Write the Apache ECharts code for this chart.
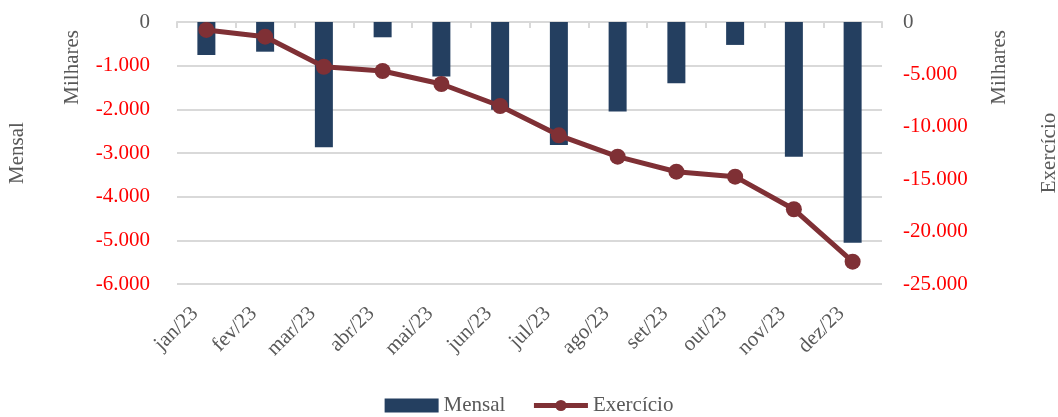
<!DOCTYPE html>
<html lang="pt">
<head>
<meta charset="UTF-8">
<title>Mensal x Exercício</title>
<style>
  *{margin:0;padding:0;}
  #chart{width:1058px;height:417px;background:#fff;}
</style>
</head>
<body>
<div id="chart"></div>
<script src="https://cdn.jsdelivr.net/npm/echarts@6/dist/echarts.min.js"></script>
<script>
var months = ['jan/23','fev/23','mar/23','abr/23','mai/23','jun/23','jul/23','ago/23','set/23','out/23','nov/23','dez/23'];
// valores em milhares
var mensal = [-756, -680, -2870, -350, -1250, -2010, -2815, -2050, -1405, -525, -3085, -5055];
var exercicio = [-760, -1400, -4270, -4675, -5915, -8015, -10815, -12850, -14285, -14760, -17870, -22870];

var fontFam = '"Liberation Serif", "DejaVu Serif", serif';
var gray = '#595959';
var lineColor = '#7f3035';

function fmt(v){
	var s = Math.abs(v).toString().replace(/\B(?=(\d{3})+(?!\d))/g, '.');
	if(v < 0){
		return '{neg|-' + s + '}';
	}
	return '{zero|' + s + '}';
}
var labelRich = {
	neg:{color:'#ff0000',fontSize:21,fontFamily:fontFam},
	zero:{color:gray,fontSize:21,fontFamily:fontFam}
};

var myChart = echarts.init(document.getElementById('chart'));
var option = {
	animation:false,
	textStyle:{fontFamily:fontFam},
	grid:{left:177,right:176,top:22,bottom:133,outerBoundsMode:'none'},
	legend:{
		top:390,
		left:'center',
		itemWidth:54,
		itemHeight:14,
		itemGap:26,
		textStyle:{color:gray,fontSize:21,fontFamily:fontFam},
		data:[
			{name:'Mensal',icon:'rect'},
			{name:'Exercício',lineStyle:{width:5,color:lineColor}}
		]
	},
	graphic:[
		{type:'text',left:62,top:30,rotation:Math.PI/2,
			style:{text:'Milhares',fill:gray,font:'21px ' + fontFam}},
		{type:'text',left:989,top:30,rotation:Math.PI/2,
			style:{text:'Milhares',fill:gray,font:'21px ' + fontFam}}
	],
	xAxis:[{
		type:'category',
		data:months,
		position:'bottom',
		axisLine:{show:false},
		axisTick:{show:false},
		axisLabel:{rotate:45,margin:15,padding:[0,16,0,0],color:gray,fontSize:21,fontFamily:fontFam}
	},{
		type:'category',
		data:months,
		position:'top',
		axisLine:{show:true,lineStyle:{color:'#d9d9d9',width:2}},
		axisTick:{show:true,inside:true,length:6,lineStyle:{color:'#d9d9d9',width:2}},
		axisLabel:{show:false}
	}],
	yAxis:[{
		type:'value',
		min:-6000,
		max:0,
		interval:1000,
		name:'Mensal',
		nameLocation:'middle',
		nameGap:149,
		nameTextStyle:{color:gray,fontSize:21,fontFamily:fontFam},
		axisLine:{show:false},
		axisTick:{show:false},
		splitLine:{lineStyle:{color:'#d9d9d9',width:2}},
		axisLabel:{margin:27,formatter:fmt,rich:labelRich}
	},{
		type:'value',
		min:-25000,
		max:0,
		interval:5000,
		name:'Exercício',
		nameLocation:'middle',
		nameGap:157,
		nameTextStyle:{color:gray,fontSize:21,fontFamily:fontFam},
		axisLine:{show:false},
		axisTick:{show:false},
		splitLine:{show:false},
		axisLabel:{margin:21,formatter:fmt,rich:labelRich}
	}],
	series:[{
		name:'Mensal',
		type:'bar',
		data:mensal,
		barWidth:18,
		itemStyle:{color:'#243f60'}
	},{
		name:'Exercício',
		type:'line',
		yAxisIndex:1,
		data:exercicio,
		symbol:'circle',
		symbolSize:16,
		lineStyle:{color:lineColor,width:5},
		itemStyle:{color:lineColor},
		z:5
	}]
};
myChart.setOption(option);
</script>
</body>
</html>
